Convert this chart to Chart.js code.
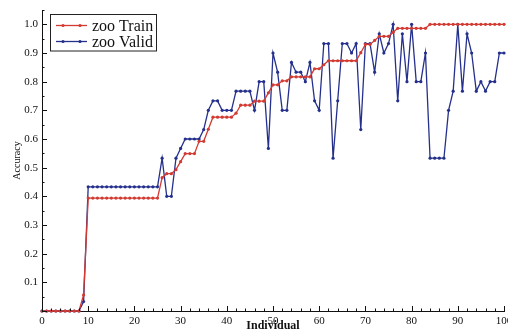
<!DOCTYPE html>
<html>
<head>
<meta charset="utf-8">
<script src="https://cdn.jsdelivr.net/npm/chart.js@4.4.1/dist/chart.umd.min.js"></script>
<style>
html,body{margin:0;padding:0;background:#ffffff;}
#wrap{width:508px;height:332px;}
</style>
</head>
<body>
<div id="wrap"><canvas id="accChart" width="508" height="332"></canvas></div>
<script>

// =========================
// Data
// =========================

const individuals = [
  0,1,2,3,4,5,6,7,8,9,10,11,12,13,14,15,16,17,18,19,
  20,21,22,23,24,25,26,27,28,29,30,31,32,33,34,35,36,37,38,39,
  40,41,42,43,44,45,46,47,48,49,50,51,52,53,54,55,56,57,58,59,
  60,61,62,63,64,65,66,67,68,69,70,71,72,73,74,75,76,77,78,79,
  80,81,82,83,84,85,86,87,88,89,90,91,92,93,94,95,96,97,98,99,100
];

const trainAcc = [
  0,0,0,0,0,0,0,0,0,0.056,
  0.394,0.394,0.394,0.394,0.394,0.394,0.394,0.394,0.394,0.394,
  0.394,0.394,0.394,0.394,0.394,0.394,0.465,0.479,0.479,0.493,
  0.521,0.549,0.549,0.549,0.592,0.592,0.634,0.676,0.676,0.676,
  0.676,0.676,0.690,0.718,0.718,0.718,0.732,0.732,0.732,0.761,
  0.789,0.789,0.803,0.803,0.817,0.817,0.817,0.817,0.817,0.845,
  0.845,0.859,0.873,0.873,0.873,0.873,0.873,0.873,0.873,0.901,
  0.930,0.930,0.944,0.958,0.958,0.958,0.972,0.986,0.986,0.986,
  0.986,0.986,0.986,0.986,1,1,1,1,1,1,
  1,1,1,1,1,1,1,1,1,1,1
];

const validAcc = [
  0,0,0,0,0,0,0,0,0,0.033,
  0.433,0.433,0.433,0.433,0.433,0.433,0.433,0.433,0.433,0.433,
  0.433,0.433,0.433,0.433,0.433,0.433,0.533,0.400,0.400,0.533,
  0.567,0.600,0.600,0.600,0.600,0.633,0.700,0.733,0.733,0.700,
  0.700,0.700,0.767,0.767,0.767,0.767,0.700,0.800,0.800,0.567,
  0.900,0.833,0.700,0.700,0.867,0.833,0.833,0.800,0.867,0.733,
  0.700,0.933,0.933,0.533,0.733,0.933,0.933,0.900,0.933,0.633,
  0.933,0.933,0.833,0.967,0.900,0.933,1,0.733,0.967,0.800,
  1,0.800,0.800,0.900,0.533,0.533,0.533,0.533,0.700,0.767,
  1,0.767,0.967,0.900,0.767,0.800,0.767,0.800,0.800,0.900,0.900
];

const seriesNames = ["zoo Train", "zoo Valid"];
const seriesColors = ["#d23a32", "#24308c"];

const xTitle = "Individual";
const yTitle = "Accuracy";

const serif = "'Liberation Serif', 'DejaVu Serif', serif";


// =========================
// Inward tick marks
// =========================

const innerTicks = {

    id: "innerTicks",

    afterDatasetsDraw(chart){

        const ctx = chart.ctx;
        const xs = chart.scales.x;
        const ys = chart.scales.y;
        const area = chart.chartArea;

        ctx.save();
        ctx.strokeStyle = "#111";
        ctx.lineWidth = 1;
        ctx.beginPath();

        // x : minor every 2, major every 10
        for(let i = 0; i <= 50; i++){
            const px = Math.round(xs.getPixelForValue(i * 2)) + 0.5;
            const len = (i % 5 === 0) ? 5 : 2.5;
            ctx.moveTo(px, area.bottom);
            ctx.lineTo(px, area.bottom - len);
        }

        // y : minor every 0.05, major every 0.1
        for(let i = 0; i <= 21; i++){
            const py = Math.round(ys.getPixelForValue(i * 0.05)) + 0.5;
            const len = (i % 2 === 0) ? 5 : 2.5;
            ctx.moveTo(area.left, py);
            ctx.lineTo(area.left + len, py);
        }

        ctx.stroke();
        ctx.restore();

    }

};


// =========================
// Boxed legend in the corner
// =========================

const boxLegend = {

    id: "boxLegend",

    afterDraw(chart){

        const ctx = chart.ctx;
        const sets = chart.data.datasets;

        ctx.save();

        ctx.fillStyle = "#ffffff";
        ctx.fillRect(50.5, 14.5, 106, 36.5);
        ctx.strokeStyle = "#222";
        ctx.lineWidth = 1;
        ctx.strokeRect(50.5, 14.5, 106, 36.5);

        ctx.font = "16px " + serif;
        ctx.textBaseline = "middle";
        ctx.textAlign = "left";

        sets.forEach((ds, i) => {

            const y = 25.5 + i * 16;

            ctx.strokeStyle = ds.borderColor;
            ctx.lineWidth = 1.3;
            ctx.beginPath();
            ctx.moveTo(56, y);
            ctx.lineTo(87, y);
            ctx.stroke();

            ctx.fillStyle = ds.borderColor;
            [63, 80].forEach(mx => {
                ctx.beginPath();
                ctx.arc(mx, y, 1.6, 0, Math.PI * 2);
                ctx.fill();
            });

            ctx.fillStyle = "#111";
            ctx.fillText(ds.label, 92, y + 1);

        });

        ctx.restore();

    }

};


// =========================
// Chart
// =========================

const ctx = document.getElementById("accChart").getContext("2d");

const accChart = new Chart(ctx, {

    type: "line",

    data: {

        labels: individuals,

        datasets: [

            {
                label: seriesNames[0],
                data: trainAcc,
                borderColor: seriesColors[0],
                backgroundColor: seriesColors[0],
                borderWidth: 1.3,
                pointRadius: 1.6,
                pointBorderWidth: 0,
                pointBackgroundColor: seriesColors[0],
                tension: 0,
                fill: false,
                clip: false
            },

            {
                label: seriesNames[1],
                data: validAcc,
                borderColor: seriesColors[1],
                backgroundColor: seriesColors[1],
                borderWidth: 1.3,
                pointRadius: 1.6,
                pointBorderWidth: 0,
                pointBackgroundColor: seriesColors[1],
                tension: 0,
                fill: false,
                clip: false
            }

        ]

    },

    options: {

        responsive: false,
        animation: false,
        devicePixelRatio: 1,

        layout: {
            padding: {left: 0, right: 4, top: 10, bottom: 0}
        },

        plugins: {
            legend: {display: false},
            tooltip: {enabled: false}
        },

        scales: {

            x: {
                type: "linear",
                min: 0,
                max: 100,
                grid: {display: false, drawTicks: false},
                border: {display: true, color: "#111", width: 1},
                ticks: {
                    stepSize: 10,
                    autoSkip: false,
                    maxRotation: 0,
                    padding: 4,
                    color: "#111",
                    font: {family: serif, size: 11}
                },
                title: {
                    display: true,
                    text: xTitle,
                    color: "#111",
                    font: {family: serif, size: 12, weight: "bold", lineHeight: 1},
                    padding: {top: 0, bottom: 0}
                },
                afterFit(scale){
                    scale.height = 21;
                    scale.paddingLeft = 0;
                    scale.paddingRight = 0;
                }
            },

            y: {
                min: 0,
                max: 1.05,
                grid: {display: false, drawTicks: false},
                border: {display: true, color: "#111", width: 1},
                ticks: {
                    stepSize: 0.1,
                    includeBounds: false,
                    padding: 4,
                    color: "#111",
                    font: {family: serif, size: 11},
                    callback: v => (v < 0.001 ? "" : Number(v).toFixed(1))
                },
                title: {
                    display: true,
                    text: yTitle,
                    color: "#111",
                    font: {family: serif, size: 10, lineHeight: 1},
                    padding: {top: 12, bottom: 0}
                },
                afterFit(scale){
                    scale.width = 42;
                    scale.paddingTop = 0;
                    scale.paddingBottom = 0;
                }
            }

        }

    },

    plugins: [innerTicks, boxLegend]

});

</script>
</body>
</html>
